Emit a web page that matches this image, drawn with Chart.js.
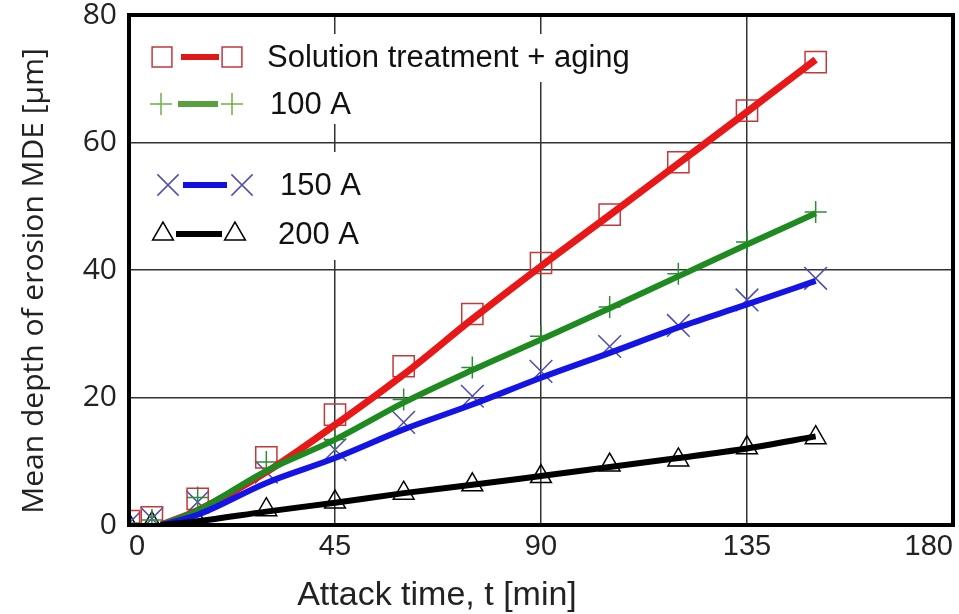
<!DOCTYPE html>
<html>
<head>
<meta charset="utf-8">
<script src="https://cdn.jsdelivr.net/npm/chart.js@4.4.1/dist/chart.umd.min.js"></script>
<style>
  html, body { margin: 0; padding: 0; background: #fff; }
  #wrap { width: 959px; height: 614px; }
</style>
</head>
<body>
<div id="wrap"><canvas id="erosionChart"></canvas></div>
<script>
// measured points
let times = [0, 5, 15, 30, 45, 60, 75, 90, 105, 120, 135, 150];
let stAging = [0.6, 1.2, 4.1, 10.6, 17.3, 24.9, 33.1, 41.1, 48.7, 56.9, 65.0, 72.6];
let amp100 = [0.3, 0.8, 4.3, 9.9, 13.4, 19.7, 24.7, 29.6, 34.2, 39.4, 44.4, 49.1];
let amp150 = [0.3, 1.0, 3.6, 8.3, 11.8, 16.1, 20.2, 24.1, 28.0, 31.3, 35.3, 38.7];
let amp200 = [0.0, 0.2, 0.5, 2.4, 3.6, 5.0, 6.3, 7.6, 9.4, 10.2, 12.1, 13.7];

// fitted curves
let fitTimes = [7, 15, 30, 45, 60, 75, 90, 105, 120, 135, 150];
let stAgingFit = [0, 2.3, 8.3, 15.7, 23.6, 32.3, 40.6, 48.6, 56.7, 64.8, 73.0];
let amp100Fit = [0, 2.3, 8.5, 13.4, 19.2, 24.3, 29.1, 34.0, 39.0, 44.0, 48.9];
let amp150Fit = [0, 1.6, 6.6, 10.5, 15.0, 18.9, 23.1, 27.0, 31.0, 34.6, 38.3];
let amp200Fit = [0, 0.6, 2.1, 3.5, 5.0, 6.3, 7.7, 9.1, 10.5, 12.0, 13.9];

let xTicks = [0, 45, 90, 135, 180];
let yTicks = [0, 20, 40, 60, 80];
let legendLabels = ["Solution treatment + aging", "100 A", "150 A", "200 A"];

function toXY(xs, ys) {
    return xs.map(function (x, i) { return { x: x, y: ys[i] }; });
}

function fitSet(xs, ys, color, width) {
    return {
        type: "line",
        data: toXY(xs, ys),
        borderColor: color,
        borderWidth: width,
        pointRadius: 0,
        cubicInterpolationMode: "monotone",
        fill: false
    };
}

function markSet(xs, ys, style, radius, color, width) {
    return {
        type: "scatter",
        data: toXY(xs, ys),
        showLine: false,
        pointStyle: style,
        pointRadius: radius,
        pointHoverRadius: radius,
        pointBorderColor: color,
        pointBackgroundColor: "rgba(0,0,0,0)",
        pointBorderWidth: width
    };
}

let legendRows = [
    { label: legendLabels[0], style: "rect", r: 14, mark: "#c0393b", line: "#e01818", y: 57, x1: 162, x2: 232, lx1: 181, lx2: 219, tx: 267 },
    { label: legendLabels[1], style: "cross", r: 11, mark: "#6bb04a", line: "#5aa040", y: 104, x1: 161, x2: 232, lx1: 178, lx2: 218, tx: 270 },
    { label: legendLabels[2], style: "crossRot", r: 15, mark: "#5050b0", line: "#1010e0", y: 185, x1: 168, x2: 242, lx1: 183, lx2: 227, tx: 280 },
    { label: legendLabels[3], style: "triangle", r: 12, mark: "#000", line: "#000", y: 234, x1: 163, x2: 235, lx1: 176, lx2: 222, tx: 278 }
];

let framePlugin = {
    id: "frame",
    afterDatasetsDraw: function (chart) {
        let ctx = chart.ctx;
        let a = chart.chartArea;
        ctx.save();
        // white boxes behind legend
        ctx.fillStyle = "#fff";
        ctx.fillRect(140, 34, 500, 48);
        ctx.fillRect(140, 82, 260, 42);
        ctx.fillRect(140, 152, 260, 108);
        legendRows.forEach(function (row) {
            ctx.strokeStyle = row.line;
            ctx.lineWidth = 6;
            ctx.beginPath();
            ctx.moveTo(row.lx1, row.y);
            ctx.lineTo(row.lx2, row.y);
            ctx.stroke();
            let opts = { pointStyle: row.style, radius: row.r, rotation: 0, borderWidth: 1.5 };
            ctx.strokeStyle = row.mark;
            ctx.fillStyle = "rgba(0,0,0,0)";
            ctx.lineWidth = 1.5;
            Chart.helpers.drawPoint(ctx, opts, row.x1, row.y);
            Chart.helpers.drawPoint(ctx, opts, row.x2, row.y);
            ctx.fillStyle = "#111";
            ctx.font = "31px 'Liberation Sans', Arial, sans-serif";
            ctx.textBaseline = "middle";
            ctx.textAlign = "left";
            ctx.fillText(row.label, row.tx, row.y + 1);
        });
        // thick frame
        ctx.strokeStyle = "#000";
        ctx.lineWidth = 4;
        ctx.strokeRect(a.left, a.top, a.right - a.left, a.bottom - a.top);
        // axis titles
        ctx.fillStyle = "#222";
        ctx.textAlign = "center";
        ctx.textBaseline = "middle";
        ctx.font = "34px 'Liberation Sans', Arial, sans-serif";
        ctx.fillText("Attack time, t [min]", 437, 596);
        ctx.translate(34, 281);
        ctx.rotate(-Math.PI / 2);
        ctx.font = "30px 'Open Sans', sans-serif";
        ctx.fillText("Mean depth of erosion MDE [μm]", 0, 0);
        ctx.restore();
    }
};

new Chart("erosionChart", {
    data: {
        datasets: [
            fitSet(fitTimes, amp200Fit, "#000", 6),
            fitSet(fitTimes, amp150Fit, "#1414e6", 6),
            fitSet(fitTimes, amp100Fit, "#1f8a1f", 6),
            fitSet(fitTimes, stAgingFit, "#e81818", 7),
            markSet(times, stAging, "rect", 15, "#c0393b", 1.5),
            markSet(times, amp100, "cross", 11, "#2f8a3a", 1.5),
            markSet(times, amp150, "crossRot", 16, "#4a4ab0", 1.5),
            markSet(times, amp200, "triangle", 12, "#000", 1.5)
        ]
    },
    options: {
        responsive: true,
        maintainAspectRatio: false,
        animation: false,
        events: [],
        layout: { autoPadding: false, padding: { top: 15, right: 6, left: 0, bottom: 0 } },
        plugins: {
            legend: { display: false },
            tooltip: { enabled: false }
        },
        scales: {
            x: {
                type: "linear",
                min: 0,
                max: 180,
                afterBuildTicks: function (scale) {
                    scale.ticks = xTicks.map(function (v) { return { value: v }; });
                },
                afterFit: function (scale) {
                    scale.height = 89;
                    scale.paddingLeft = 0;
                    scale.paddingRight = 0;
                },
                grid: { color: "#333", lineWidth: 1.5, drawTicks: false },
                border: { display: false },
                ticks: {
                    align: "inner",
                    padding: 5,
                    color: "#222",
                    font: { family: "'Liberation Sans', Arial, sans-serif", size: 29 }
                }
            },
            y: {
                type: "linear",
                min: 0,
                max: 80,
                afterBuildTicks: function (scale) {
                    scale.ticks = yTicks.map(function (v) { return { value: v }; });
                },
                afterFit: function (scale) {
                    scale.width = 129;
                    scale.paddingTop = 0;
                    scale.paddingBottom = 0;
                },
                grid: { color: "#333", lineWidth: 1.5, drawTicks: false },
                border: { display: false },
                ticks: {
                    padding: 12,
                    color: "#222",
                    font: { family: "'Open Sans', sans-serif", size: 30 }
                }
            }
        }
    },
    plugins: [framePlugin]
});
</script>
</body>
</html>
